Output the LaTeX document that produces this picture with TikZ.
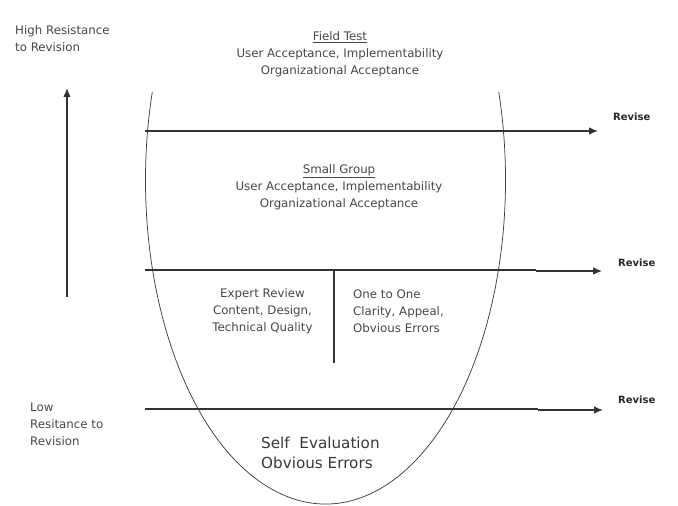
\documentclass[tikz,border=0pt]{standalone}
\usepackage{fontspec}
\setmainfont{DejaVu Sans}
\usepackage{tikz}
\usetikzlibrary{arrows.meta,positioning}

\begin{document}
\begin{tikzpicture}[
  x=1pt, y=1pt,
  txt/.style={text=black!72, font=\fontsize{11.8}{17.2}\selectfont,
              inner sep=0pt},
  big/.style={txt, text=black!78, font=\fontsize{15.2}{20}\selectfont},
  rev/.style={text=black!85, font=\fontsize{10}{12}\selectfont\bfseries,
              inner sep=0pt},
  ln/.style={draw=black!80, line width=1.15pt},
  arr/.style={ln, -{Latex[length=9pt,width=7.5pt]}},
  curve/.style={draw=black!75, line width=0.75pt}
]
\useasboundingbox (0,0) rectangle (678,506);

% the cup
\draw[curve] (152.3,414) arc[start angle=164.24, end angle=375.76,
                             x radius=180, y radius=324];

% levels
\coordinate (topL) at (145,375);
\coordinate (topR) at (598,375);
\coordinate (midL) at (145,236);
\coordinate (midM) at (536,236);
\coordinate (midR) at (602,235);
\coordinate (lowL) at (145,97);
\coordinate (lowM) at (538,97);
\coordinate (lowR) at (603,96);
\coordinate (divT) at (334,236);
\coordinate (divB) at (334,143);
\coordinate (upB)  at (67,209);
\coordinate (upT)  at (67,418);

\draw[arr] (topL) -- (topR);
\draw[ln]  (midL) -- (midM);
\draw[arr] ([yshift=-1pt]midM) -- (midR);
\draw[ln]  (lowL) -- (lowM);
\draw[arr] ([yshift=-1pt]lowM) -- (lowR);
\draw[ln]  (divT) -- (divB);
\draw[arr] (upB) -- (upT);

% texts
\node[txt, align=center] (field) at (340,451.5)
  {\underline{Field Test}\\User Acceptance, Implementability\\Organizational Acceptance};
\node[txt, align=center] (small) at (339,319)
  {\underline{Small Group}\\User Acceptance, Implementability\\Organizational Acceptance};
\node[txt, align=center] (expert) at (262.5,195)
  {Expert Review\\Content, Design,\\Technical Quality};
\node[txt, align=left, anchor=west] (one) at (353,195)
  {One to One\\Clarity, Appeal,\\Obvious Errors};
\node[big, align=left, anchor=west] (self) at (261,53)
  {Self\ \ Evaluation\\Obvious Errors};
\node[txt, align=left, anchor=west] (high) at (15,467.5)
  {High Resistance\\to Revision};
\node[txt, align=left, anchor=west] (low) at (30,82)
  {Low\\Resitance to\\Revision};

\node[rev, right=15pt of topR, yshift=14pt] (revA) {Revise};
\node[rev, right=16pt of midR, yshift=8pt]  (revB) {Revise};
\node[rev, right=15pt of lowR, yshift=10pt] (revC) {Revise};
\end{tikzpicture}
\end{document}
